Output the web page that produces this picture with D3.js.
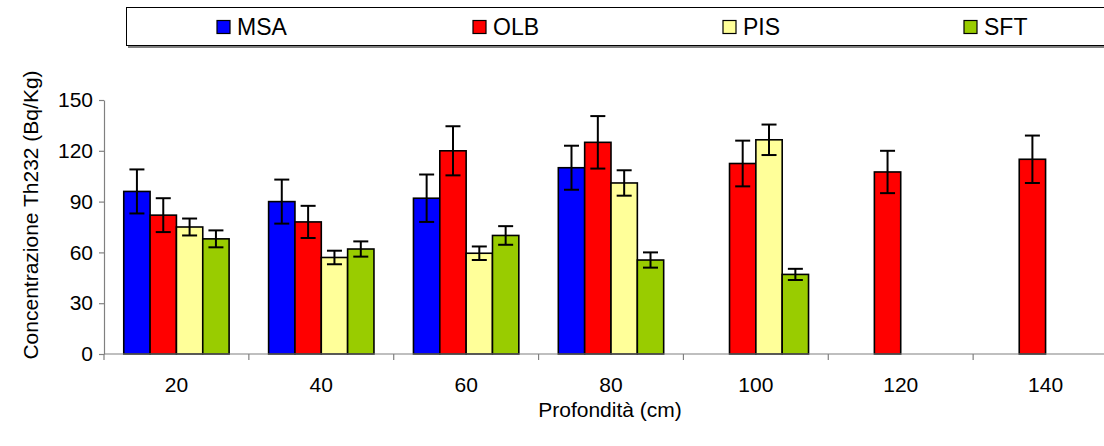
<!DOCTYPE html>
<html>
<head>
<meta charset="utf-8">
<script src="https://cdn.jsdelivr.net/npm/d3@7"></script>
<style>
  html, body { margin: 0; padding: 0; background: #fff; overflow: hidden; }
  svg { display: block; font-family: "Liberation Sans", Arial, sans-serif; }
</style>
</head>
<body>
<svg id="chart" width="1104" height="446"></svg>
<script>
// ---- data ----
const categories = ["20", "40", "60", "80", "100", "120", "140"];
const seriesNames = ["MSA", "OLB", "PIS", "SFT"];
const seriesColors = ["#0000FF", "#FF0000", "#FFFF99", "#99CC00"];
const msaValues = [96, 90, 92, 110, null, null, null];
const msaErrors = [13, 13, 14, 13, null, null, null];
const olbValues = [82, 78, 120, 125, 112.5, 107.5, 115];
const olbErrors = [10, 9.5, 14.5, 15.5, 13.5, 12.5, 14];
const pisValues = [75, 57, 59.5, 101, 126.5, null, null];
const pisErrors = [5, 4, 4, 7.5, 9, null, null];
const sftValues = [68, 62, 70, 55.5, 47, null, null];
const sftErrors = [5, 4.5, 5.5, 4.5, 3.3, null, null];
const yTicks = [0, 30, 60, 90, 120, 150];
const yTitle = "Concentrazione Th232 (Bq/Kg)";
const xTitle = "Profondità (cm)";

const seriesValues = [msaValues, olbValues, pisValues, sftValues];
const seriesErrors = [msaErrors, olbErrors, pisErrors, sftErrors];

const rows = [];
categories.forEach((c, i) => {
  seriesNames.forEach((s, j) => {
    if (seriesValues[j][i] != null) {
      rows.push({ cat: c, series: s, color: seriesColors[j], v: seriesValues[j][i], e: seriesErrors[j][i] });
    }
  });
});

// ---- layout ----
const svg = d3.select("#chart");
const plotLeft = 104, plotRight = 1118, plotTop = 100, plotBottom = 354;
const pin = 1.5 / 5.5;

const x = d3.scaleBand().domain(categories).range([plotLeft, plotRight])
  .paddingInner(pin).paddingOuter(pin / 2);
const xs = d3.scaleBand().domain(seriesNames).range([0, x.bandwidth()]);
const y = d3.scaleLinear().domain([0, 150]).range([plotBottom, plotTop]);

const axisColor = "#808080";
const fontSize = 21;

// bars
svg.append("g").selectAll("rect").data(rows).join("rect")
  .attr("x", d => x(d.cat) + xs(d.series))
  .attr("y", d => y(d.v))
  .attr("width", xs.bandwidth())
  .attr("height", d => y(0) - y(d.v))
  .attr("fill", d => d.color)
  .attr("stroke", "#000")
  .attr("stroke-width", 1.6);

// error bars
const eb = svg.append("g").attr("stroke", "#000").attr("stroke-width", 2).attr("fill", "none");
const cap = 7.5;
rows.forEach(d => {
  const cx = x(d.cat) + xs(d.series) + xs.bandwidth() / 2;
  eb.append("line").attr("x1", cx).attr("x2", cx).attr("y1", y(d.v + d.e)).attr("y2", y(d.v - d.e));
  eb.append("line").attr("x1", cx - cap).attr("x2", cx + cap).attr("y1", y(d.v + d.e)).attr("y2", y(d.v + d.e));
  eb.append("line").attr("x1", cx - cap).attr("x2", cx + cap).attr("y1", y(d.v - d.e)).attr("y2", y(d.v - d.e));
});

// y axis
const yAxis = svg.append("g").attr("transform", `translate(${plotLeft},0)`)
  .call(d3.axisLeft(y).tickValues(yTicks).tickSize(5).tickPadding(6).tickSizeOuter(0));
yAxis.select(".domain").attr("stroke", axisColor).attr("stroke-width", 1.2);
yAxis.selectAll(".tick line").attr("stroke", axisColor).attr("stroke-width", 1.2);
yAxis.selectAll(".tick text").attr("font-size", fontSize).attr("fill", "#000")
  .attr("font-family", "Liberation Sans, Arial, sans-serif");

// x axis (labels via axis, ticks at category boundaries)
const xAxis = svg.append("g").attr("transform", `translate(0,${plotBottom})`)
  .call(d3.axisBottom(x).tickSize(0).tickPadding(23).tickSizeOuter(0));
xAxis.select(".domain").attr("stroke", axisColor).attr("stroke-width", 1.2)
  .attr("d", `M${plotLeft},0H${plotRight}`);
xAxis.selectAll(".tick text").attr("font-size", fontSize).attr("fill", "#000")
  .attr("font-family", "Liberation Sans, Arial, sans-serif");
const gap = x.step() - x.bandwidth();
const boundaries = categories.map(c => x(c) - gap / 2).concat([x(categories[categories.length - 1]) + x.bandwidth() + gap / 2]);
xAxis.append("g").selectAll("line").data(boundaries).join("line")
  .attr("x1", d => d).attr("x2", d => d).attr("y1", 0).attr("y2", 6)
  .attr("stroke", axisColor).attr("stroke-width", 1.2);

// axis titles
svg.append("text")
  .attr("transform", `translate(38,${(plotTop + plotBottom) / 2 - 12}) rotate(-90)`)
  .attr("text-anchor", "middle").attr("font-size", fontSize).text(yTitle);
svg.append("text")
  .attr("x", 610).attr("y", 417)
  .attr("text-anchor", "middle").attr("font-size", fontSize).text(xTitle);

// legend
const lg = svg.append("g");
lg.append("rect").attr("x", 128).attr("y", 10).attr("width", 1000).attr("height", 38)
  .attr("fill", "#808080");
lg.append("rect").attr("x", 126.5).attr("y", 7.5).attr("width", 1000).attr("height", 38)
  .attr("fill", "#fff").attr("stroke", "#000").attr("stroke-width", 1);
const legendX = [217, 473, 723, 964];
seriesNames.forEach((s, j) => {
  lg.append("rect").attr("x", legendX[j]).attr("y", 20.5).attr("width", 13).attr("height", 13)
    .attr("fill", seriesColors[j]).attr("stroke", "#000").attr("stroke-width", 1.2);
  lg.append("text").attr("x", legendX[j] + 20).attr("y", 35).attr("font-size", 23).text(s);
});
</script>
</body>
</html>
